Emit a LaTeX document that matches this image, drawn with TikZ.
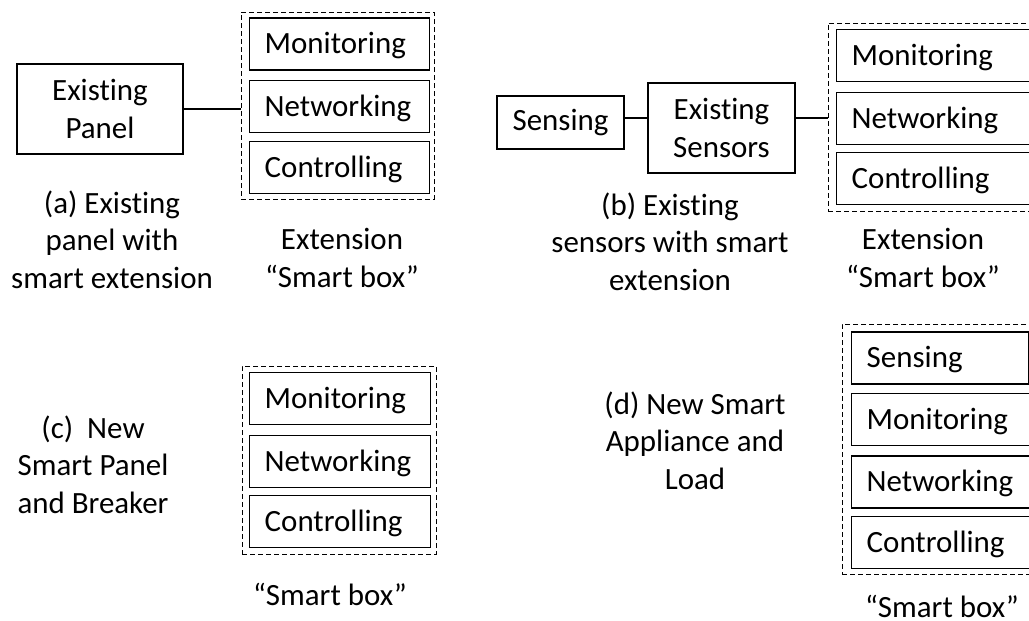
\documentclass[tikz,border=0pt]{standalone}
\usepackage{fontspec}
\setmainfont{Carlito}[Ligatures=NoCommon]
\newcommand{\dfont}{\fontsize{23.2}{27.9}\selectfont}
\tikzset{
  lbl/.style={font=\dfont, inner sep=0pt, align=center, anchor=base},
  pbox/.style={draw, line width=1.1pt, font=\dfont, inner sep=0pt, align=center},
  ibox/.style={draw, line width=1.1pt, font=\dfont, anchor=west, inner xsep=11.25pt, inner ysep=0pt,
    text height=14.8pt, text depth=0pt, minimum height=39pt, align=left},
  dbox/.style={draw, line width=0.75pt, dash pattern=on 3.75pt off 2.25pt, inner sep=0pt},
  conn/.style={line width=1.1pt}
}
\begin{document}
\begin{tikzpicture}[x=0.75pt,y=-0.75pt]
\clip (0,0) rectangle (1029,621);
% ---------- (a)
\node[pbox, minimum width=124.5pt, minimum height=67.5pt] (panel) at (100,109) {Existing\\Panel};
\node[dbox, minimum width=144.75pt, minimum height=140.25pt] (sba) at (337.5,105.5) {};
\node[ibox, text width=112.5pt] (amon) at (249,44) {Monitoring};
\node[ibox, text width=112.5pt] (anet) at (249,106.5) {Networking};
\node[ibox, text width=112.5pt] (acon) at (249,167.5) {Controlling};
\draw[conn] (panel.east) -- (sba.west |- panel.east);
\node[lbl] (capa) at (112,288) {(a) Existing\\panel with\\smart extension};
\node[lbl] (exta) at (342,287) {Extension\\“Smart box”};
% ---------- (b)
\node[pbox, minimum width=95.25pt, minimum height=39.75pt] (sense) at (560.5,122.5) {Sensing};
\node[pbox, minimum width=110.25pt, minimum height=67.5pt] (sensors) at (721.5,128) {Existing\\Sensors};
\node[dbox, minimum width=162.75pt, minimum height=141pt] (sbb) at (936.5,117) {};
\node[ibox, text width=135pt] (bmon) at (836,55.5) {Monitoring};
\node[ibox, text width=135pt] (bnet) at (836,118.5) {Networking};
\node[ibox, text width=135pt] (bcon) at (836,178.5) {Controlling};
\coordinate (lb) at (0,118);
\draw[conn] (sense.east |- lb) -- (sensors.west |- lb);
\draw[conn] (sensors.east |- lb) -- (sbb.west |- lb);
\node[lbl] (capb) at (670,290) {(b) Existing\\sensors with smart\\extension};
\node[lbl] (extb) at (923,287) {Extension\\“Smart box”};
% ---------- (c)
\node[dbox, minimum width=145.5pt, minimum height=141pt] (sbc) at (339,460) {};
\node[ibox, text width=113.25pt] (cmon) at (249,398.5) {Monitoring};
\node[ibox, text width=113.25pt] (cnet) at (249,461.5) {Networking};
\node[ibox, text width=113.25pt] (ccon) at (249,521.5) {Controlling};
\node[lbl] (capc) at (93,513) {(c)\ \ New\\Smart Panel\\and Breaker};
\node[lbl] (extc) at (330,605) {“Smart box”};
% ---------- (d)
\node[dbox, minimum width=152.25pt, minimum height=187.5pt] (sbd) at (943.5,449) {};
\node[ibox, text width=110.25pt] (dsen) at (851,358) {Sensing};
\node[ibox, text width=135pt] (dmon) at (851,419.5) {Monitoring};
\node[ibox, text width=135pt] (dnet) at (851,482) {Networking};
\node[ibox, text width=135pt] (dcon) at (851,542.5) {Controlling};
\node[lbl] (capd) at (695,489) {(d) New Smart\\Appliance and\\Load};
\node[lbl] (extd) at (942,617) {“Smart box”};
\end{tikzpicture}
\end{document}
